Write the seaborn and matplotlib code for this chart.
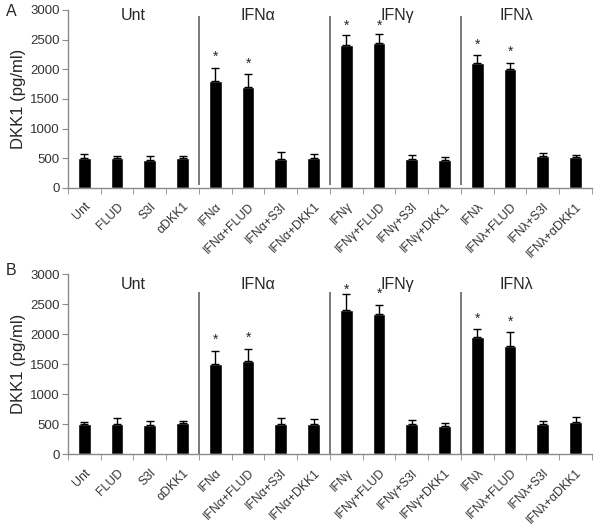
import numpy as np
import pandas as pd
import seaborn as sns
import matplotlib
matplotlib.use('Agg')
import matplotlib.pyplot as plt

# treatments (same order in both panels)
labels = ['Unt', 'FLUD', 'S3I', 'αDKK1',
          'IFNα', 'IFNα+FLUD', 'IFNα+S3I', 'IFNα+DKK1',
          'IFNγ', 'IFNγ+FLUD', 'IFNγ+S3I', 'IFNγ+DKK1',
          'IFNλ', 'IFNλ+FLUD', 'IFNλ+S3I', 'IFNλ+αDKK1']
groups = ['Unt', 'IFNα', 'IFNγ', 'IFNλ']
signif = [4, 5, 8, 9, 12, 13]   # bars with a star

# panel A (pg/ml)
vals_a = [505, 500, 470, 500, 1800, 1700, 490, 500, 2410, 2450, 490, 470, 2100, 2000, 535, 520]
err_a = [70, 45, 75, 45, 230, 215, 118, 70, 170, 150, 60, 45, 140, 110, 50, 30]

# panel B (pg/ml)
vals_b = [500, 500, 485, 515, 1500, 1550, 500, 500, 2400, 2330, 500, 470, 1950, 1800, 500, 530]
err_b = [45, 100, 68, 40, 220, 210, 97, 85, 260, 160, 75, 50, 130, 230, 57, 97]

sns.set_style('white')
plt.rcParams['font.family'] = ['Liberation Sans', 'DejaVu Sans']

fig = plt.figure(figsize=(6, 5.27), dpi=100)
ax_a = fig.add_axes([0.1133, 0.6433, 0.8733, 0.3378])
ax_b = fig.add_axes([0.1133, 0.1380, 0.8733, 0.3420])

grey = '#8a8a8a'


def panel(ax, vals, errs, grp_y, line_top, line_bot):
    df = pd.DataFrame({'treat': labels, 'val': vals})
    sns.barplot(data=df, x='treat', y='val', order=labels, color='black',
                width=0.39, ax=ax, saturation=1)
    pos = np.arange(len(labels))
    ax.errorbar(pos, vals, yerr=[np.zeros(len(errs)), errs], fmt='none',
                ecolor='black', elinewidth=1, capsize=3, capthick=1)
    for i in signif:
        ystar = min(vals[i] + errs[i] + 180, 2740)
        ax.text(pos[i], ystar, '*', ha='center', va='center', fontsize=10)

    # group separators and headers
    ax.vlines([3.5, 7.5, 11.5], line_bot, line_top, color='#6e6e6e', lw=1.3)
    for g, xg in zip(groups, [1.5, 5.3, 9.55, 13.2]):
        ax.text(xg, grp_y, g, ha='center', va='center', fontsize=11.5)

    ax.set_xlim(-0.5, 15.5)
    ax.set_ylim(0, 3000)
    ax.set_yticks(range(0, 3001, 500))
    ax.set_xticks(pos)
    ax.set_xticklabels(labels, rotation=45, ha='right', rotation_mode='anchor',
                       fontsize=8.8, color='#333333')
    ax.set_xticks(np.arange(-0.5, 16, 1), minor=True)
    ax.tick_params(axis='x', which='major', length=0, pad=9)
    ax.tick_params(axis='x', which='minor', length=4, color=grey, direction='out', bottom=True)
    ax.tick_params(axis='y', length=4, color=grey, direction='out', left=True,
                   labelsize=9.5, labelcolor='#333333', pad=2)
    for s in ['top', 'right']:
        ax.spines[s].set_visible(False)
    for s in ['left', 'bottom']:
        ax.spines[s].set_color(grey)
        ax.spines[s].set_linewidth(1)
    ax.set_xlabel('')
    ax.set_ylabel('DKK1 (pg/ml)', fontsize=12, labelpad=3)


panel(ax_a, vals_a, err_a, 2900, 2900, 50)
panel(ax_b, vals_b, err_b, 2820, 2700, 0)

fig.text(0.010, 0.979, 'A', fontsize=11.5, va='center')
fig.text(0.010, 0.487, 'B', fontsize=11.5, va='center')

fig.savefig('out.png', dpi=100)
